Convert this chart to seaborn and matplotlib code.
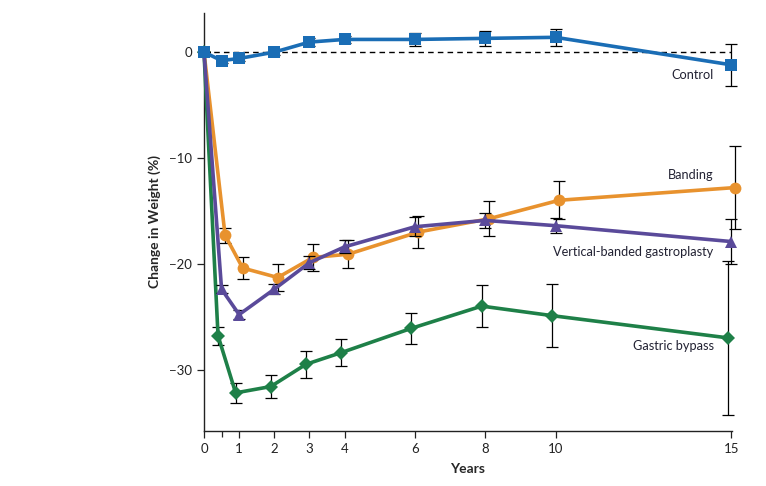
import numpy as np
import pandas as pd
import seaborn as sns
import matplotlib
matplotlib.use("Agg")
import matplotlib.pyplot as plt

# years of follow-up
years = [0, 0.5, 1, 2, 3, 4, 6, 8, 10, 15]

# mean change in weight (%) and error bar half-widths
control = [0, -0.8, -0.6, 0.0, 0.95, 1.2, 1.2, 1.3, 1.4, -1.2]
control_err = [0, 0.25, 0.25, 0.3, 0.4, 0.35, 0.6, 0.7, 0.8, 2.0]

banding = [0, -17.3, -20.4, -21.3, -19.4, -19.1, -17.0, -15.75, -14.0, -12.8]
banding_err = [0, 0.7, 1.0, 1.3, 1.3, 1.3, 1.5, 1.65, 1.8, 3.9]

vbg = [0, -22.4, -24.8, -22.4, -19.9, -18.4, -16.5, -15.9, -16.4, -17.9]
vbg_err = [0, 0.4, 0.4, 0.5, 0.6, 0.6, 0.9, 0.7, 0.7, 2.1]

bypass = [0, -26.8, -32.2, -31.6, -29.5, -28.4, -26.1, -24.0, -24.9, -27.0]
bypass_err = [0, 0.85, 0.95, 1.1, 1.3, 1.25, 1.45, 2.0, 3.0, 7.3]

groups = ["Banding", "Gastric bypass", "Vertical-banded gastroplasty", "Control"]
values = [banding, bypass, vbg, control]
errors = [banding_err, bypass_err, vbg_err, control_err]

colors = {"Control": "#1a6db5", "Banding": "#e8922e",
          "Vertical-banded gastroplasty": "#5a4a9a", "Gastric bypass": "#1e8048"}
markers = {"Control": "s", "Banding": "o",
           "Vertical-banded gastroplasty": "^", "Gastric bypass": "D"}
msizes = {"Control": 8, "Banding": 8.5, "Vertical-banded gastroplasty": 8.5, "Gastric bypass": 7.5}
# small horizontal dodge so overlapping points stay visible
dodge = {"Control": 0.0, "Banding": 0.1, "Vertical-banded gastroplasty": 0.0, "Gastric bypass": -0.1}

rows = []
for g, v, e in zip(groups, values, errors):
    for t, y, err in zip(years, v, e):
        rows.append({"group": g, "year": t + (dodge[g] if t > 0 else 0), "change": y, "err": err})
df = pd.DataFrame(rows)

sns.set_theme(style="ticks")
plt.rcParams['font.family'] = ['Lato', 'DejaVu Sans']

fig = plt.figure(figsize=(7.66, 4.86), dpi=100)
ax = fig.add_axes([0.2663, 0.1132, 0.6893, 0.8601])

ax.plot([0, 15], [0, 0], ls=(0, (4, 3)), color="black", lw=1.0, zorder=1)

for i, g in enumerate(groups):
    d = df[df["group"] == g]
    ax.errorbar(d["year"], d["change"], yerr=d["err"], fmt="none",
                ecolor="black", elinewidth=0.9, capsize=4.5, capthick=0.9,
                zorder=2 + i * 2, clip_on=False)
    sns.lineplot(data=d, x="year", y="change", ax=ax, color=colors[g],
                 marker=markers[g], markersize=msizes[g], markeredgewidth=0,
                 lw=2.6, zorder=3 + i * 2, clip_on=False, legend=False,
                 estimator=None, sort=False)

ax.set_xlim(0, 15.02)
ax.set_ylim(-35.8, 3.7)
ax.set_xticks([0, 1, 2, 3, 4, 6, 8, 10, 15])
ax.set_xticks([0.5], minor=True)
ax.set_yticks([0, -10, -20, -30])
ax.set_yticklabels(["0", "\u221210", "\u221220", "\u221230"])
ax.tick_params(axis="both", which="major", length=5, width=0.9, labelsize=9.5, colors="#222222")
ax.tick_params(axis="x", which="minor", length=4, width=0.9)
for s in ["left", "bottom"]:
    ax.spines[s].set_linewidth(1.0)
    ax.spines[s].set_color("#222222")
sns.despine(ax=ax)

ax.set_xlabel("Years", fontsize=10, fontweight="bold", labelpad=6)
ax.set_ylabel("Change in Weight (%)", fontsize=10, fontweight="bold", labelpad=6)

label_pos = {"Control": -2.2, "Banding": -11.6,
             "Vertical-banded gastroplasty": -18.9, "Gastric bypass": -27.8}
for g, ypos in label_pos.items():
    ax.text(14.5, ypos, g, ha="right", va="center", fontsize=9.2, color="#222233")

plt.savefig("out.png", dpi=100)
